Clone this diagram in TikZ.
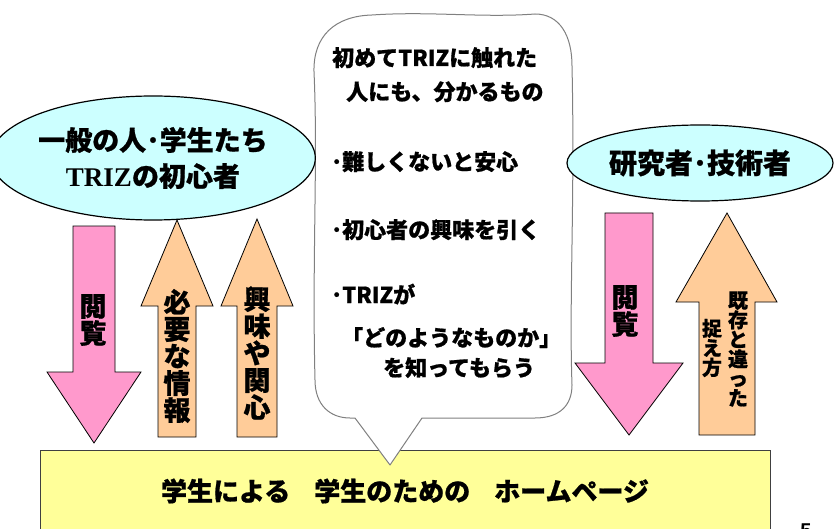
\documentclass[tikz,border=0pt]{standalone}
\usepackage{fontspec}
\setmainfont{Noto Sans CJK JP}[BoldFeatures={FakeBold=0.8}]
\newfontfamily\trizserif{Liberation Serif}
\newfontfamily\pnumfont{Liberation Sans}
\usetikzlibrary{shapes.geometric}
\definecolor{pinkfill}{HTML}{FF99CC}
\definecolor{orangefill}{HTML}{FFCC99}
\definecolor{cyanfill}{HTML}{CCFFFF}
\definecolor{yellowfill}{HTML}{FFFF99}
\definecolor{bubbleline}{HTML}{808080}
\definecolor{boxline}{HTML}{404040}
\tikzset{
  downarrow/.style={fill=pinkfill, draw=black, line width=0.8pt},
  uparrow/.style={fill=orangefill, draw=black, line width=0.8pt},
  groupell/.style={ellipse, fill=cyanfill, draw=black, line width=1.2pt, inner sep=0pt, align=center},
  vtext/.style={align=center, inner sep=0pt, font=\bfseries\fontsize{27}{27}\selectfont},
  vsmall/.style={align=center, inner sep=0pt, font=\bfseries\fontsize{20}{19.5}\selectfont},
  bubtext/.style={anchor=base west, inner sep=0pt, font=\bfseries\fontsize{22}{22}\selectfont},
  bubble/.style={fill=white, draw=bubbleline, line width=1pt, line join=round},
  homebox/.style={fill=yellowfill, draw=boxline, line width=1pt},
}
\begin{document}
\begin{tikzpicture}[x=1pt,y=-1pt]
\useasboundingbox (0,0) rectangle (834,529);
\fill[white] (0,0) rectangle (834,529);

% bottom box
\draw[homebox] (40,450) rectangle (770,545);
\node[inner sep=0pt, font=\bfseries\fontsize{26}{26}\selectfont] (home) at (405,491)
  {学生による\hspace{24pt}学生のための\hspace{24pt}ホームページ};

% speech bubble
\draw[bubble] (355,418) -- (350,418)
  .. controls (330,418) and (315,405) .. (315,380)
  .. controls (312,260) and (318,160) .. (314,72)
  .. controls (313,36) and (335,16) .. (372,15)
  .. controls (430,11) and (482,18) .. (535,14)
  .. controls (560,14) and (572,36) .. (572,66)
  .. controls (575,200) and (569,300) .. (572,385)
  .. controls (572,405) and (560,418) .. (535,418)
  -- (422,418) -- (390,465) -- cycle;
\node[bubtext] (b1) at (332,66) {初めてTRIZに触れた};
\node[bubtext] (b2) at (346,100) {人にも、分かるもの};
\node[bubtext] (b3) at (331,170) {･難しくないと安心};
\node[bubtext] (b4) at (331,238) {･初心者の興味を引く};
\node[bubtext] (b5) at (331,303) {･TRIZが};
\node[bubtext] (b6) at (341,346) {「どのようなものか」};
\node[bubtext] (b7) at (383,376) {を知ってもらう};

% left group
\node[groupell, minimum width=280pt, minimum height=124pt,
      font=\bfseries\fontsize{27}{36}\selectfont] (general) at (153,158)
  {一般の人･学生たち\\{\trizserif\bfseries TRIZ}の初心者};

% right group
\node[groupell, minimum width=266pt, minimum height=76pt,
      font=\bfseries\fontsize{28}{28}\selectfont] (research) at (700,163)
  {研究者･技術者};

% left arrows
\draw[downarrow] (73,226) -- (115,226) -- (115,372) -- (141,372) -- (94,443)
  -- (47,372) -- (73,372) -- cycle;
\node[vtext] (l1) at (93,320) {閲\\覧};
\draw[uparrow] (158,437) -- (158,306) -- (141,306) -- (177,220) -- (213,306)
  -- (196,306) -- (196,437) -- cycle;
\node[vtext] (l2) at (177,356) {必\\要\\な\\情\\報};
\draw[uparrow] (237,437) -- (237,306) -- (221,306) -- (257,219) -- (293,306)
  -- (277,306) -- (277,437) -- cycle;
\node[vtext] (l3) at (257,353) {興\\味\\や\\関\\心};

% right arrows
\draw[downarrow] (605,213) -- (653,213) -- (653,363) -- (683,363) -- (629,435)
  -- (575,363) -- (605,363) -- cycle;
\node[vtext] (r1) at (625,311) {閲\\覧};
\draw[uparrow] (699,435) -- (699,302) -- (676,302) -- (727,213) -- (777,302)
  -- (755,302) -- (755,435) -- cycle;
\node[vsmall] (r2) at (738,349) {既\\存\\と\\違\\っ\\た};
\node[vsmall] (r3) at (712,348) {捉\\え\\方};

% page number (cut by the page edge, as in the reference)
\node[inner sep=0pt, anchor=north, font=\pnumfont\bfseries\fontsize{20}{20}\selectfont] (pnum) at (806,524) {5};
\end{tikzpicture}
\end{document}
